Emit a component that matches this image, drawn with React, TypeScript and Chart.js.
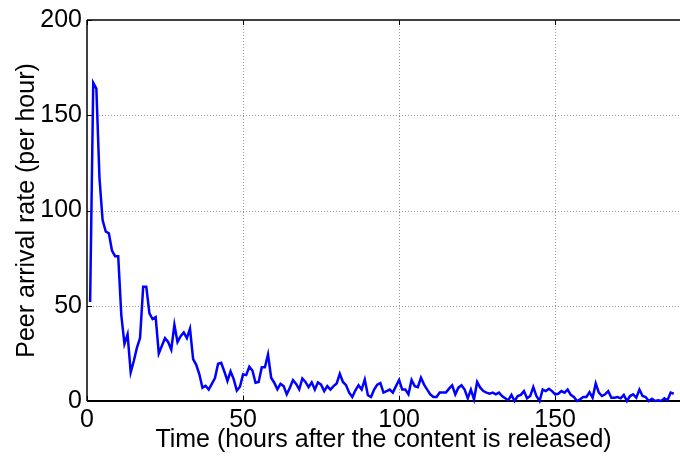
import React, { useEffect, useRef } from "react";
import { Chart, registerables } from "chart.js";

Chart.register(...registerables);

// Sampling: one value per hour, starting at hour 1
const START_HOUR = 1;
const STEP_HOURS = 1;

// Peer arrival rate (per hour)
const RATE = [
  52, 167, 164, 117, 95, 89, 88, 79, 76, 76,
  45, 30, 35, 15, 21, 28, 33, 60, 60, 46,
  43, 44, 25, 29, 33, 31, 27, 40, 31, 34,
  36, 33, 38, 22, 19, 14, 7, 8, 6, 9,
  12, 19.5, 20, 15.5, 10.5, 15.5, 11.5, 5.5, 7.5, 14,
  13.6, 18, 16, 9.6, 10, 17.7, 17.7, 24.4, 12.2, 9.6,
  6.1, 9, 7.8, 3.5, 7, 11, 9, 6.1, 11.8, 10,
  7.3, 9.8, 6, 9.8, 8.6, 5.2, 7.8, 6, 7.8, 9.2,
  14.3, 10, 8.3, 4.4, 2.1, 5.6, 8.3, 6, 11.3, 3,
  2.1, 6, 8.6, 9.4, 4.4, 5.2, 6, 4.4, 7.8, 11,
  6, 6, 3.5, 11, 7.8, 7.3, 12.2, 8.6, 6, 3.5,
  2.1, 2.1, 4.4, 4.4, 4.4, 6.5, 8.2, 3.5, 7, 8.3,
  6, 1.4, 6, 0.9, 10, 7, 5.2, 4.4, 3.8, 4.4,
  3.5, 4.4, 2.6, 1.4, 0.4, 3.2, 0, 2.6, 3.2, 5.2,
  1.4, 2.6, 7.3, 2.6, 0, 6, 5.2, 6.4, 5.2, 3.5,
  3.8, 5.2, 4.4, 6, 3.2, 2.1, 0, 0.9, 2.1, 2.1,
  4.6, 1.7, 9.2, 4.4, 2.6, 3.5, 5.2, 1.7, 1.7, 2.1,
  1.4, 3.2, 0, 2.6, 3.5, 1.7, 6, 2.6, 2.1, 0,
  1.2, 0, 0.4, 0, 1.4, 0.4, 4.4, 3.8,
];

const X_TICKS = [0, 50, 100, 150];
const Y_TICKS = [0, 50, 100, 150, 200];
const X_MIN = 0;
const X_MAX = 190;
const Y_MIN = 0;
const Y_MAX = 200;

const X_TITLE = "Time (hours after the content is released)";
const Y_TITLE = "Peer arrival rate (per hour)";

const FONT_FAMILY = "'Liberation Sans', Arial, Helvetica, sans-serif";
const FONT_SIZE = 25;
const LINE_COLOR = "#0000ff";

const axesPlugin = {
  id: "matlabAxes",
  beforeDatasetsDraw(chart: any) {
    const { ctx, chartArea: a, scales } = chart;
    const x = scales.x;
    const y = scales.y;
    const seg = (x1: number, y1: number, x2: number, y2: number) => {
      ctx.beginPath();
      ctx.moveTo(x1, y1);
      ctx.lineTo(x2, y2);
      ctx.stroke();
    };
    ctx.save();
    // dotted grid
    ctx.strokeStyle = "#9a9a9a";
    ctx.lineWidth = 1;
    ctx.setLineDash([1, 2]);
    X_TICKS.forEach((v) => {
      const px = Math.round(x.getPixelForValue(v)) + 0.5;
      if (px > a.left + 2 && px < a.right - 2) seg(px, a.top, px, a.bottom);
    });
    Y_TICKS.forEach((v) => {
      const py = Math.round(y.getPixelForValue(v)) + 0.5;
      if (py > a.top + 2 && py < a.bottom - 2) seg(a.left, py, a.right, py);
    });
    ctx.setLineDash([]);
    // box (left, bottom, top)
    ctx.strokeStyle = "#000";
    ctx.lineWidth = 1.5;
    seg(a.left, a.top, a.right, a.top);
    seg(a.left, a.top, a.left, a.bottom);
    ctx.lineWidth = 2;
    seg(a.left, a.bottom, a.right, a.bottom);
    // inward tick marks
    ctx.lineWidth = 1;
    const TL = 5;
    X_TICKS.forEach((v) => {
      const px = Math.round(x.getPixelForValue(v)) + 0.5;
      seg(px, a.bottom, px, a.bottom - TL);
      seg(px, a.top, px, a.top + TL);
    });
    Y_TICKS.forEach((v) => {
      const py = Math.round(y.getPixelForValue(v)) + 0.5;
      seg(a.left, py, a.left + TL, py);
    });
    ctx.restore();
  },
};

export default function App() {
  const canvasRef = useRef<HTMLCanvasElement | null>(null);

  useEffect(() => {
    const canvas = canvasRef.current;
    if (!canvas) return;
    const points = RATE.map((r, i) => ({ x: START_HOUR + i * STEP_HOURS, y: r }));
    const chart = new Chart(canvas, {
      type: "line",
      data: {
        datasets: [
          {
            data: points,
            borderColor: LINE_COLOR,
            borderWidth: 2.5,
            pointRadius: 0,
            tension: 0,
            fill: false,
            clip: false as any,
          },
        ],
      },
      options: {
        animation: false,
        responsive: false,
        maintainAspectRatio: false,
        devicePixelRatio: 1,
        layout: { padding: { top: 17, right: 0, bottom: 0, left: 0 } },
        plugins: {
          legend: { display: false },
          tooltip: { enabled: false },
        },
        scales: {
          x: {
            type: "linear",
            min: X_MIN,
            max: X_MAX,
            afterBuildTicks: (scale: any) => {
              scale.ticks = X_TICKS.map((v) => ({ value: v }));
            },
            afterFit: (scale: any) => {
              scale.height = 58;
            },
            grid: { display: false, drawTicks: false },
            border: { display: false },
            ticks: {
              color: "#000",
              padding: 4,
              maxRotation: 0,
              autoSkip: false,
              font: { family: FONT_FAMILY, size: FONT_SIZE },
            },
            title: {
              display: true,
              text: X_TITLE,
              color: "#000",
              font: { family: FONT_FAMILY, size: FONT_SIZE },
              padding: { top: 0, bottom: 4 },
            },
          },
          y: {
            type: "linear",
            min: Y_MIN,
            max: Y_MAX,
            afterBuildTicks: (scale: any) => {
              scale.ticks = Y_TICKS.map((v) => ({ value: v }));
            },
            afterFit: (scale: any) => {
              scale.width = 87;
            },
            grid: { display: false, drawTicks: false },
            border: { display: false },
            ticks: {
              color: "#000",
              padding: 5,
              autoSkip: false,
              font: { family: FONT_FAMILY, size: FONT_SIZE },
            },
            title: {
              display: true,
              text: Y_TITLE,
              color: "#000",
              font: { family: FONT_FAMILY, size: FONT_SIZE },
              padding: { top: 12, bottom: 0 },
            },
          },
        },
      },
      plugins: [axesPlugin],
    });
    return () => chart.destroy();
  }, []);

  return (
    <div style={{ position: "absolute", left: 0, top: 0, width: 680, height: 459, background: "#fff" }}>
      <canvas ref={canvasRef} width={680} height={459} style={{ display: "block" }} />
    </div>
  );
}
